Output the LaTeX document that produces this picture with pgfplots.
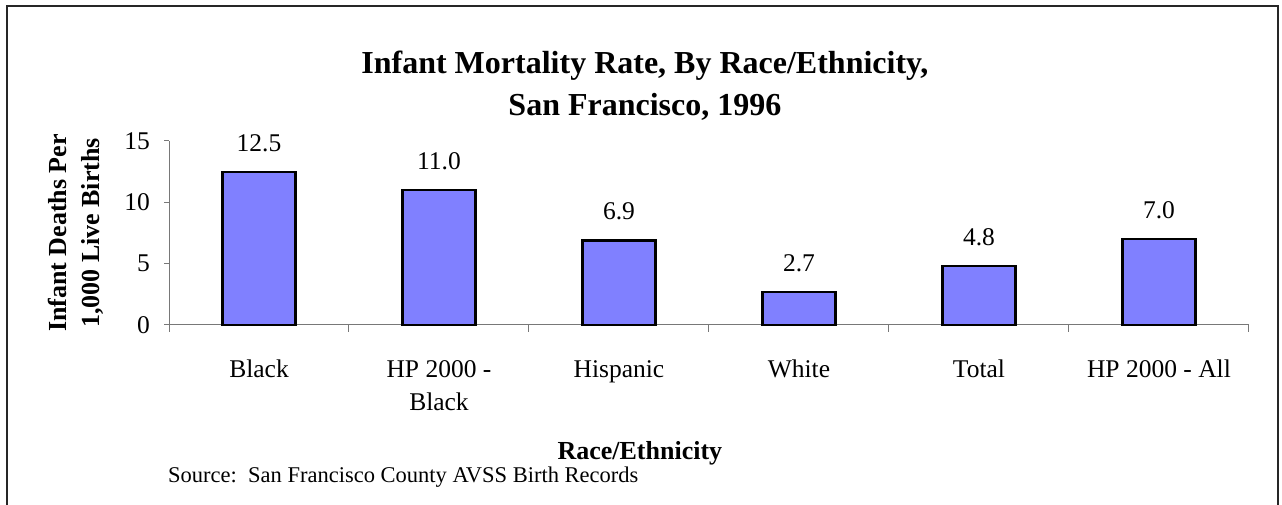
\documentclass[border=0pt]{standalone}
\usepackage{fontspec}
\setmainfont{Liberation Serif}
\usepackage{pgfplots}
\pgfplotsset{compat=1.18}
\definecolor{barblue}{RGB}{128,128,255}
\definecolor{axgray}{RGB}{120,120,120}
\begin{document}
\begin{tikzpicture}[x=1pt,y=1pt]
\useasboundingbox (0,0) rectangle (1282,505);
\draw[line width=1.5pt, black!85] (7,-2) -- (7,499) -- (1278,499) -- (1278,-2);
\begin{axis}[
  at={(169pt,180pt)}, anchor=south west,
  width=1080pt, height=184pt, scale only axis,
  xmin=0, xmax=6, ymin=0, ymax=15,
  clip=false,
  axis x line*=bottom, axis y line*=left,
  axis line style={-, draw=axgray, line width=1pt},
  tick align=outside,
  tick style={draw=axgray, line width=1pt},
  major tick length=5pt,
  minor tick length=7pt,
  ytick={0,5,10,15},
  xtick={0.5,1.5,2.5,3.5,4.5,5.5},
  xticklabels={Black,{HP 2000 -\\Black},Hispanic,White,Total,HP 2000 - All},
  major x tick style={draw=none},
  minor xtick={0,1,2,3,4,5,6},
  /pgf/number format/assume math mode=true,
  yticklabel style={font=\fontsize{25.5}{30}\selectfont, inner sep=0pt, anchor=east, xshift=-14pt},
  xticklabel style={font=\fontsize{25.5}{33}\selectfont, align=center, inner sep=0pt, anchor=north, yshift=-30pt},
  title={Infant Mortality Rate, By Race/Ethnicity,\\San Francisco, 1996},
  title style={font=\bfseries\fontsize{32}{42}\selectfont, align=center, inner sep=0pt, at={(axis description cs:0.4407,1)}, anchor=north, yshift=84pt},
  xlabel={Race/Ethnicity},
  xlabel style={font=\bfseries\fontsize{26}{32}\selectfont, inner sep=0pt, at={(axis description cs:0.436,0)}, anchor=base, yshift=-135pt},
  ylabel={Infant Deaths Per\\1,000 Live Births},
  ylabel style={font=\bfseries\fontsize{26}{33}\selectfont, align=center, inner sep=0pt, at={(axis description cs:0,0.5)}, rotate=0, anchor=south, yshift=65pt},
]
\addplot[ybar, bar width=73pt, fill=barblue, draw=black, line width=2.3pt,
  point meta=explicit symbolic, nodes near coords,
  nodes near coords style={font=\fontsize{25.5}{30}\selectfont, inner sep=0pt, anchor=south, yshift=19pt, text=black}]
  coordinates {(0.5,12.5)[12.5] (1.5,11.0)[11.0] (2.5,6.9)[6.9] (3.5,2.7)[2.7] (4.5,4.8)[4.8] (5.5,7.0)[7.0]};
\end{axis}
\node[anchor=base west, inner sep=0pt, font=\fontsize{22.5}{27}\selectfont] at (168,22) {Source:\ \ San Francisco County AVSS Birth Records};
\end{tikzpicture}
\end{document}
